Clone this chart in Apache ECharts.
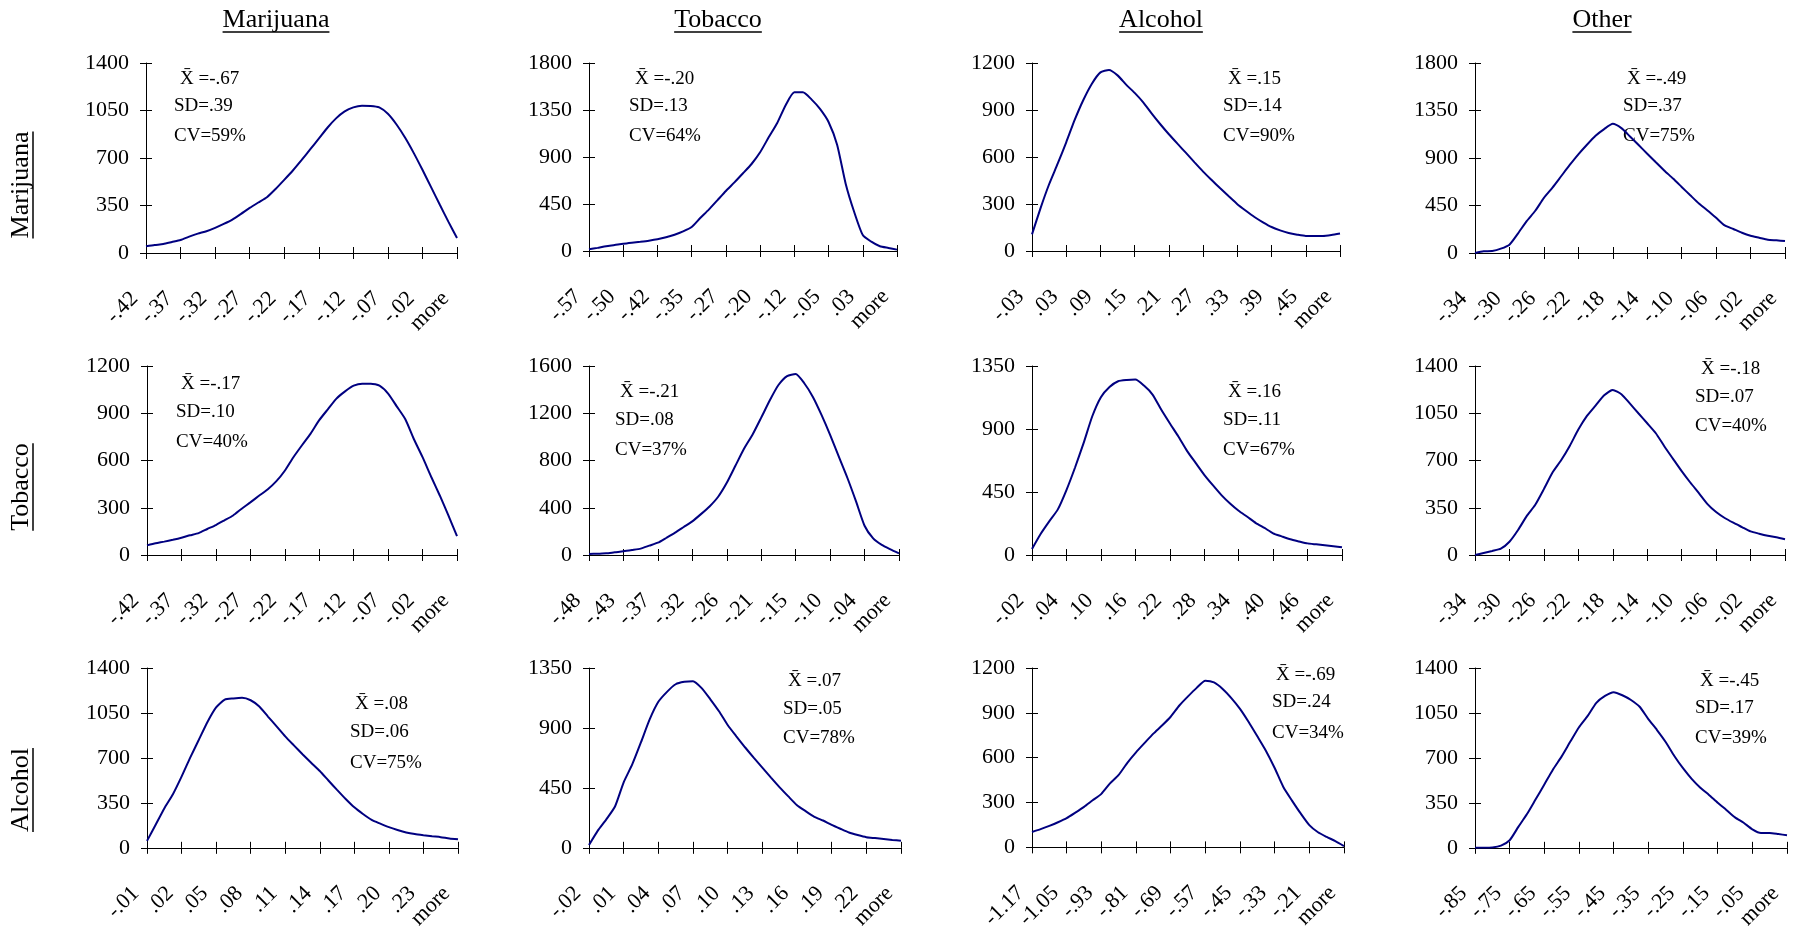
<!DOCTYPE html>
<html><head><meta charset="utf-8">
<script src="https://cdn.jsdelivr.net/npm/echarts@6.0.0/dist/echarts.min.js"></script>
<style>html,body{margin:0;padding:0;background:#fff}#c{width:1805px;height:932px}</style>
</head><body><div id="c"></div>
<script>
// ---------------- DATA ----------------
const colNames = ['Marijuana', 'Tobacco', 'Alcohol', 'Other'];
const rowNames = ['Marijuana', 'Tobacco', 'Alcohol'];

// x-axis tick labels (row variable _ column variable)
const ticks_MJ_MJ = ['-.42','-.37','-.32','-.27','-.22','-.17','-.12','-.07','-.02','more'];
const ticks_MJ_TB = ['-.57','-.50','-.42','-.35','-.27','-.20','-.12','-.05','.03','more'];
const ticks_MJ_AL = ['-.03','.03','.09','.15','.21','.27','.33','.39','.45','more'];
const ticks_MJ_OT = ['-.34','-.30','-.26','-.22','-.18','-.14','-.10','-.06','-.02','more'];
const ticks_TB_MJ = ['-.42','-.37','-.32','-.27','-.22','-.17','-.12','-.07','-.02','more'];
const ticks_TB_TB = ['-.48','-.43','-.37','-.32','-.26','-.21','-.15','-.10','-.04','more'];
const ticks_TB_AL = ['-.02','.04','.10','.16','.22','.28','.34','.40','.46','more'];
const ticks_TB_OT = ['-.34','-.30','-.26','-.22','-.18','-.14','-.10','-.06','-.02','more'];
const ticks_AL_MJ = ['-.01','.02','.05','.08','.11','.14','.17','.20','.23','more'];
const ticks_AL_TB = ['-.02','.01','.04','.07','.10','.13','.16','.19','.22','more'];
const ticks_AL_AL = ['-1.17','-1.05','-.93','-.81','-.69','-.57','-.45','-.33','-.21','more'];
const ticks_AL_OT = ['-.85','-.75','-.65','-.55','-.45','-.35','-.25','-.15','-.05','more'];

// frequencies (4 points per labelled tick interval)
const vals_MJ_MJ = [49,59,66,81,96,121,143,160,185,214,246,288,332,372,411,472,539,608,684,763,842,923,992,1043,1073,1085,1084,1073,1026,947,849,736,613,485,357,231,111];
const vals_MJ_TB = [16,30,45,57,70,80,89,99,112,131,156,188,230,316,396,485,575,657,744,833,945,1088,1226,1398,1519,1519,1452,1360,1235,1018,645,373,153,89,45,29,13];
const vals_MJ_AL = [106,274,426,557,694,838,964,1068,1140,1155,1121,1062,1009,949,877,809,745,685,626,566,507,453,400,349,299,257,217,183,153,132,115,104,96,96,96,102,111];
const vals_MJ_OT = [0,16,19,41,79,186,302,400,522,620,727,834,935,1026,1111,1174,1224,1183,1104,1023,941,859,780,705,626,547,469,403,333,261,227,192,164,145,126,120,113];
const vals_TB_MJ = [61,74,85,97,110,125,139,165,190,220,251,294,334,376,416,467,535,621,697,771,856,925,993,1039,1075,1088,1088,1075,1025,944,862,735,621,497,378,251,120];
const vals_TB_TB = [8,11,14,23,31,42,54,79,104,146,189,237,285,346,411,493,611,755,899,1020,1163,1310,1439,1515,1532,1454,1338,1186,1017,834,654,456,248,141,85,48,14];
const vals_TB_AL = [43,150,240,326,464,625,801,991,1127,1200,1241,1250,1253,1210,1146,1039,941,846,744,658,573,499,428,368,316,273,228,193,155,133,112,97,83,76,69,62,55];
const vals_TB_OT = [0,15,30,47,98,185,288,372,488,611,702,808,929,1030,1107,1183,1223,1191,1121,1048,976,902,804,712,621,537,458,377,318,274,239,207,175,158,143,131,116];
const vals_AL_MJ = [54,180,307,417,554,702,841,980,1093,1154,1163,1168,1149,1100,1022,946,868,798,729,663,598,524,451,380,315,263,217,188,161,139,120,107,98,90,83,73,66];
const vals_AL_TB = [21,127,214,310,492,628,793,964,1096,1171,1228,1246,1251,1199,1115,1025,922,837,755,677,602,527,454,386,320,275,233,205,172,143,115,96,80,73,66,59,54];
const vals_AL_AL = [103,122,144,168,195,232,271,315,358,428,485,566,636,699,761,815,874,949,1010,1067,1115,1104,1060,999,927,839,743,645,531,404,313,227,149,101,70,42,9];
const vals_AL_OT = [0,0,2,17,59,163,263,378,493,610,712,827,939,1027,1129,1183,1212,1188,1151,1098,1002,917,824,715,620,537,468,412,351,295,237,195,144,115,115,107,98];

// y-axis scales
const yMaxes = [1400,1800,1200,1800, 1200,1600,1350,1400, 1400,1350,1200,1400];
const ySteps = [350,450,300,450, 300,400,450,350, 350,450,300,350];

// summary statistics
const means = ['-.67','-.20','.15','-.49', '-.17','-.21','.16','-.18', '.08','.07','-.69','-.45'];
const sds   = ['.39','.13','.14','.37', '.10','.08','.11','.07', '.06','.05','.24','.17'];
const cvs   = ['59%','64%','90%','75%', '40%','37%','67%','40%', '75%','78%','34%','39%'];

// ---------------- LAYOUT ----------------
const gridBoxes = [
  [146,63,311,190],[589,63,308,188],[1032,63,308,188],[1475,63,310,190],
  [147,366,310,189],[589,366,310,189],[1032,366,310,189],[1475,366,310,189],
  [147,668,311,191],[589,668,312,191],[1032,668,312,183],[1475,668,312,191]
];
// [SD/CV left, Xbar left, Xbar cy, SD cy, CV cy]
const annoPos = [
  [174,180,79,106,136],[629,635,79,106,136],[1223,1228,79,106,136],[1623,1627,79,106,136],
  [176,181,384,412,442],[615,620,392,420,450],[1223,1228,392,420,450],[1695,1701,369,397,426],
  [350,355,704,732,763],[783,788,681,709,738],[1272,1276,675,702,733],[1695,1700,681,708,738]
];
const colTitleX = [276, 718, 1161, 1602];
const colTitleY = 20;
const rowLabelX = 21;
const rowLabelY = [185, 487, 790];

const allTicks = [ticks_MJ_MJ,ticks_MJ_TB,ticks_MJ_AL,ticks_MJ_OT,ticks_TB_MJ,ticks_TB_TB,ticks_TB_AL,ticks_TB_OT,ticks_AL_MJ,ticks_AL_TB,ticks_AL_AL,ticks_AL_OT];
const allVals = [vals_MJ_MJ,vals_MJ_TB,vals_MJ_AL,vals_MJ_OT,vals_TB_MJ,vals_TB_TB,vals_TB_AL,vals_TB_OT,vals_AL_MJ,vals_AL_TB,vals_AL_AL,vals_AL_OT];

const FONT = 'Liberation Serif';
const PER = 4;
const black = {color:'#000', width:1};

const mctx = document.createElement('canvas').getContext('2d');
function textW(s, size){ mctx.font = size + 'px "' + FONT + '"'; return mctx.measureText(s).width; }

const option = {animation:false, backgroundColor:'#fff', grid:[], xAxis:[], yAxis:[], series:[], graphic:[]};

for (let p = 0; p < 12; p++) {
  const [l,t,w,h] = gridBoxes[p];
  option.grid.push({left:l, top:t, width:w, height:h, containLabel:false});
  const cats = allVals[p].map((v,i) => (i % PER === 0 ? allTicks[p][i / PER] : ''));
  option.xAxis.push({type:'category', gridIndex:p, data:cats, boundaryGap:false, position:'bottom',
    axisLine:{show:true, onZero:false, lineStyle:black},
    axisTick:{show:true, interval:PER-1, length:6, inside:false, lineStyle:black},
    axisLabel:{show:true, interval:PER-1, rotate:45, margin:31, padding:[0,16,0,0], fontFamily:FONT, fontSize:22, color:'#000'},
    splitLine:{show:false}});
  option.xAxis.push({type:'category', gridIndex:p, data:cats, boundaryGap:false, position:'bottom',
    axisLine:{show:false, onZero:false},
    axisTick:{show:true, interval:PER-1, length:6, inside:true, lineStyle:black},
    axisLabel:{show:false}, splitLine:{show:false}});
  option.yAxis.push({type:'value', gridIndex:p, min:0, max:yMaxes[p], interval:ySteps[p], position:'left',
    axisLine:{show:true, lineStyle:black},
    axisTick:{show:true, length:6, inside:false, lineStyle:black},
    axisLabel:{margin:17, fontFamily:FONT, fontSize:22, color:'#000', formatter:(v) => String(v)},
    splitLine:{show:false}});
  option.yAxis.push({type:'value', gridIndex:p, min:0, max:yMaxes[p], interval:ySteps[p], position:'left',
    axisLine:{show:false},
    axisTick:{show:true, length:6, inside:true, lineStyle:black},
    axisLabel:{show:false}, splitLine:{show:false}});
  option.series.push({type:'line', xAxisIndex:2*p, yAxisIndex:2*p, data:allVals[p], symbol:'none',
    smooth:0.2, lineStyle:{color:'#000080', width:2}, silent:true});

  const a = annoPos[p];
  const tstyle = (txt) => ({text:txt, font:'19px "' + FONT + '"', fill:'#000', align:'left', textAlign:'left', verticalAlign:'middle', textVerticalAlign:'middle'});
  option.graphic.push({type:'text', x:a[1], y:a[2], style:tstyle('X\u0304 =' + means[p]), silent:true});
  option.graphic.push({type:'text', x:a[0], y:a[3], style:tstyle('SD=' + sds[p]), silent:true});
  option.graphic.push({type:'text', x:a[0], y:a[4], style:tstyle('CV=' + cvs[p]), silent:true});
}

// column titles
colNames.forEach((n, c) => {
  const w = textW(n, 26);
  option.graphic.push({type:'text', x:colTitleX[c], y:colTitleY,
    style:{text:n, font:'26px "' + FONT + '"', fill:'#000', align:'center', textAlign:'center', verticalAlign:'middle', textVerticalAlign:'middle'}, silent:true});
  option.graphic.push({type:'line', shape:{x1:colTitleX[c]-w/2, y1:colTitleY+12, x2:colTitleX[c]+w/2, y2:colTitleY+12},
    style:{stroke:'#000', lineWidth:1.5}, silent:true});
});
// row labels
rowNames.forEach((n, r) => {
  const w = textW(n, 26);
  option.graphic.push({type:'text', x:rowLabelX, y:rowLabelY[r], rotation:Math.PI/2,
    style:{text:n, font:'26px "' + FONT + '"', fill:'#000', align:'center', textAlign:'center', verticalAlign:'middle', textVerticalAlign:'middle'}, silent:true});
  option.graphic.push({type:'line', shape:{x1:rowLabelX+12, y1:rowLabelY[r]-w/2, x2:rowLabelX+12, y2:rowLabelY[r]+w/2},
    style:{stroke:'#000', lineWidth:1.5}, silent:true});
});

const chart = echarts.init(document.getElementById('c'), null, {renderer:'canvas'});
chart.setOption(option);
</script>
</body></html>
